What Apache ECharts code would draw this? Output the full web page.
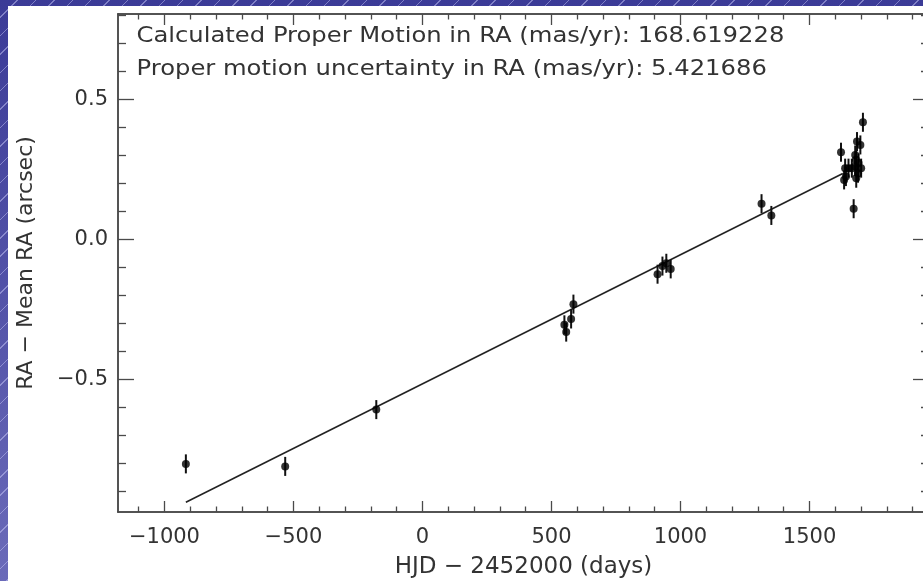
<!DOCTYPE html>
<html>
<head>
  <meta charset="UTF-8">
  <script src="https://cdnjs.cloudflare.com/ajax/libs/echarts/6.0.0/echarts.min.js"></script>
  <title></title>
  <style>
    html, body { margin: 0; padding: 0; }
    body {
      width: 923px; height: 581px; overflow: hidden; position: relative;
      background:
        repeating-linear-gradient(135deg, rgba(255,255,255,0) 0 12px, rgba(210,210,255,0.45) 12px 13px),
        linear-gradient(#3b3b97, #6a6ab9);
    }
    #chart { position: absolute; left: 8px; top: 6px; width: 915px; height: 575px; background: #fff; }
  </style>
</head>
<body>
  <div id="chart"></div>
  <script>
    // observation epochs (HJD - 2452000) and RA offsets (arcsec)
    const hjd = [-917, -532, -179, 550, 557, 576, 585, 911, 930, 945, 962, 1314, 1352,
      1622, 1634, 1638, 1641, 1651, 1664, 1671, 1677, 1677, 1680, 1681, 1684, 1688, 1690, 1697, 1700, 1707];
    const dRA = [-0.802, -0.811, -0.608, -0.305, -0.331, -0.284, -0.231, -0.124, -0.095, -0.085, -0.105, 0.128, 0.086,
      0.312, 0.213, 0.255, 0.225, 0.255, 0.255, 0.110, 0.261, 0.302, 0.285, 0.219, 0.350, 0.237, 0.273, 0.338, 0.255, 0.419];
    const dRAerr = [0.034, 0.034, 0.034, 0.034, 0.034, 0.034, 0.034, 0.034, 0.034, 0.034, 0.034, 0.034, 0.034,
      0.034, 0.034, 0.034, 0.034, 0.034, 0.034, 0.034, 0.034, 0.034, 0.034, 0.034, 0.034, 0.034, 0.034, 0.034, 0.034, 0.034];

    // fitted line end points
    const fitX = [-917, 1629];
    const fitY = [-0.939, 0.236];

    const xMajor = [-1000, -500, 0, 500, 1000, 1500];
    const xMinor = [-1100, -900, -800, -700, -600, -400, -300, -200, -100, 100, 200, 300, 400,
      600, 700, 800, 900, 1100, 1200, 1300, 1400, 1600, 1700, 1800, 1900];
    const yMajor = [-0.5, 0, 0.5];
    const yMinor = [-0.9, -0.8, -0.7, -0.6, -0.4, -0.3, -0.2, -0.1, 0.1, 0.2, 0.3, 0.4, 0.6, 0.7, 0.8];

    const noteLines = [
      'Calculated Proper Motion in RA (mas/yr): 168.619228',
      'Proper motion uncertainty in RA (mas/yr): 5.421686'
    ];

    const xMin = -1180, xMax = 1963, yMin = -0.974, yMax = 0.806;
    const axisCol = '#4a4a4a';
    const font = 'DejaVu Sans';

    function xAx(pos, ticks, len, withLabels) {
      return {
        type: 'value', position: pos, min: xMin, max: xMax,
        splitLine: { show: false },
        axisLine: { show: true, onZero: false, lineStyle: { color: axisCol, width: 1.5 } },
        axisTick: { show: true, inside: true, length: len, customValues: ticks, lineStyle: { color: axisCol, width: 1.3 } },
        axisLabel: withLabels ? {
          show: true, customValues: xMajor, margin: 15, color: '#333', fontFamily: font, fontSize: 21,
          formatter: v => String(v).replace('-', '\u2212')
        } : { show: false }
      };
    }
    function yAx(pos, ticks, len, withLabels) {
      return {
        type: 'value', position: pos, min: yMin, max: yMax,
        splitLine: { show: false },
        axisLine: { show: true, onZero: false, lineStyle: { color: axisCol, width: 1.5 } },
        axisTick: { show: true, inside: true, length: len, customValues: ticks, lineStyle: { color: axisCol, width: 1.3 } },
        axisLabel: withLabels ? {
          show: true, customValues: yMajor, margin: 10, color: '#333', fontFamily: font, fontSize: 21,
          formatter: v => v.toFixed(1).replace('-', '\u2212')
        } : { show: false }
      };
    }

    const xAxes = [xAx('bottom', xMajor, 11, true), xAx('bottom', xMinor, 5.5, false),
      xAx('top', xMajor, 11, false), xAx('top', xMinor, 5.5, false)];
    Object.assign(xAxes[0], {
      name: 'HJD \u2212 2452000 (days)', nameLocation: 'middle', nameGap: 44,
      nameTextStyle: { color: '#333', fontFamily: font, fontSize: 23 }
    });
    const yAxes = [yAx('left', yMajor, 16, true), yAx('left', yMinor, 8, false),
      yAx('right', yMajor, 16, false), yAx('right', yMinor, 8, false)];
    Object.assign(yAxes[0], {
      name: 'RA \u2212 Mean RA (arcsec)', nameLocation: 'middle', nameGap: 81,
      nameTextStyle: { color: '#333', fontFamily: font, fontSize: 22 }
    });

    const points = hjd.map((x, i) => [x, dRA[i]]);
    const bars = hjd.map((x, i) => [x, dRA[i] - dRAerr[i], dRA[i] + dRAerr[i]]);
    const fit = fitX.map((x, i) => [x, fitY[i]]);

    const chart = echarts.init(document.getElementById('chart'));
    chart.setOption({
      animation: false,
      grid: { left: 110, top: 8, width: 811, height: 498, containLabel: false, outerBoundsMode: 'none' },
      xAxis: xAxes,
      yAxis: yAxes,
      graphic: noteLines.map((t, i) => ({
        type: 'text', x: 128.5, y: 31 + i * 33, scaleX: 1.155,
        style: { text: t, fill: '#333', font: '21px "DejaVu Sans"', verticalAlign: 'middle' }
      })),
      series: [
        {
          type: 'line', data: fit, symbol: 'none',
          lineStyle: { color: '#222', width: 1.6 }, z: 2
        },
        {
          type: 'custom', data: bars, encode: { x: 0, y: [1, 2] }, z: 3,
          renderItem: function (params, api) {
            const a = api.coord([api.value(0), api.value(1)]);
            const b = api.coord([api.value(0), api.value(2)]);
            return { type: 'line', shape: { x1: a[0], y1: a[1], x2: b[0], y2: b[1] },
              style: { stroke: '#111', lineWidth: 2 } };
          }
        },
        {
          type: 'scatter', data: points, symbol: 'circle', symbolSize: 8,
          itemStyle: { color: '#000' }, z: 4
        }
      ]
    });
  </script>
</body>
</html>
